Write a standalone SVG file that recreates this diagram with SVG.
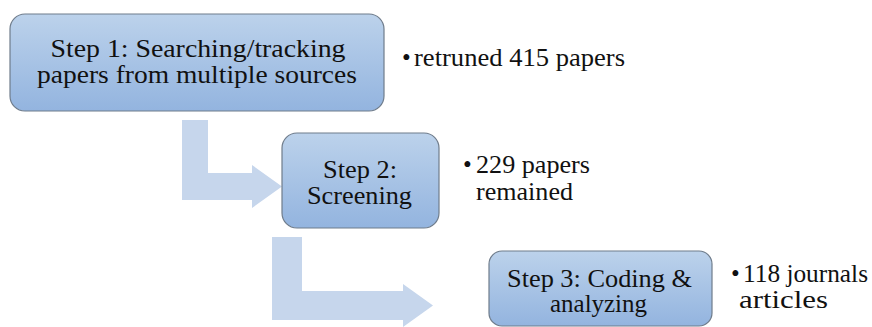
<svg xmlns="http://www.w3.org/2000/svg" width="872" height="327" viewBox="0 0 872 327">
  <defs>
    <linearGradient id="boxFill" x1="0" y1="0" x2="0" y2="1">
      <stop offset="0" stop-color="#bcd2eb"/>
      <stop offset="1" stop-color="#93b4df"/>
    </linearGradient>
    <style>
      text { font-family: "Liberation Serif", "Times New Roman", Times, "Nimbus Roman", "Noto Serif", "DejaVu Serif", FreeSerif, Tinos, Georgia, serif; }
      .box { fill: url(#boxFill); stroke: #6f7c8b; stroke-width: 1.2; }
      .bend { fill: #c6d6ec; }
      .lbl { font-size: 25px; fill: #111; text-anchor: middle; }
      .note { font-size: 25px; fill: #111; }
    </style>
  </defs>

  <!-- bent arrows leading from one step to the next -->
  <g id="connectors">
    <polygon class="bend" points="182,120 208,120 208,173 252,173 252,165 282,186.5 252,208 252,200 182,200"/>
    <polygon class="bend" points="272,237 302,237 302,291 403,291 403,284 433,305.5 403,327 403,320 272,320"/>
  </g>

  <g id="step1">
    <rect class="box" x="10" y="14" width="374" height="97" rx="15"/>
    <text class="lbl" x="198" y="56.7" textLength="295" lengthAdjust="spacingAndGlyphs">Step 1: Searching/tracking</text>
    <text class="lbl" x="197" y="83" textLength="320" lengthAdjust="spacingAndGlyphs">papers from multiple sources</text>
  </g>

  <g id="step2">
    <rect class="box" x="282" y="133" width="157" height="95" rx="15"/>
    <text class="lbl" x="360" y="177.7" textLength="74" lengthAdjust="spacingAndGlyphs">Step 2:</text>
    <text class="lbl" x="359.5" y="204" textLength="105" lengthAdjust="spacingAndGlyphs">Screening</text>
  </g>

  <g id="step3">
    <rect class="box" x="489" y="251" width="223" height="75" rx="13"/>
    <text class="lbl" x="599.5" y="287" textLength="185" lengthAdjust="spacingAndGlyphs">Step 3: Coding &amp;</text>
    <text class="lbl" x="598.5" y="312" textLength="97" lengthAdjust="spacingAndGlyphs">analyzing</text>
  </g>

  <g id="note1">
    <text class="note" x="402" y="66">•</text>
    <text class="note" x="414" y="66" textLength="211" lengthAdjust="spacingAndGlyphs">retruned 415 papers</text>
  </g>

  <g id="note2">
    <text class="note" x="463" y="173">•</text>
    <text class="note" x="476" y="173" textLength="114" lengthAdjust="spacingAndGlyphs">229 papers</text>
    <text class="note" x="476" y="200" textLength="97" lengthAdjust="spacingAndGlyphs">remained</text>
  </g>

  <g id="note3">
    <text class="note" x="731" y="282">•</text>
    <text class="note" x="743" y="282" textLength="125" lengthAdjust="spacingAndGlyphs">118 journals</text>
    <text class="note" x="739" y="308" textLength="89" lengthAdjust="spacingAndGlyphs">articles</text>
  </g>
</svg>
